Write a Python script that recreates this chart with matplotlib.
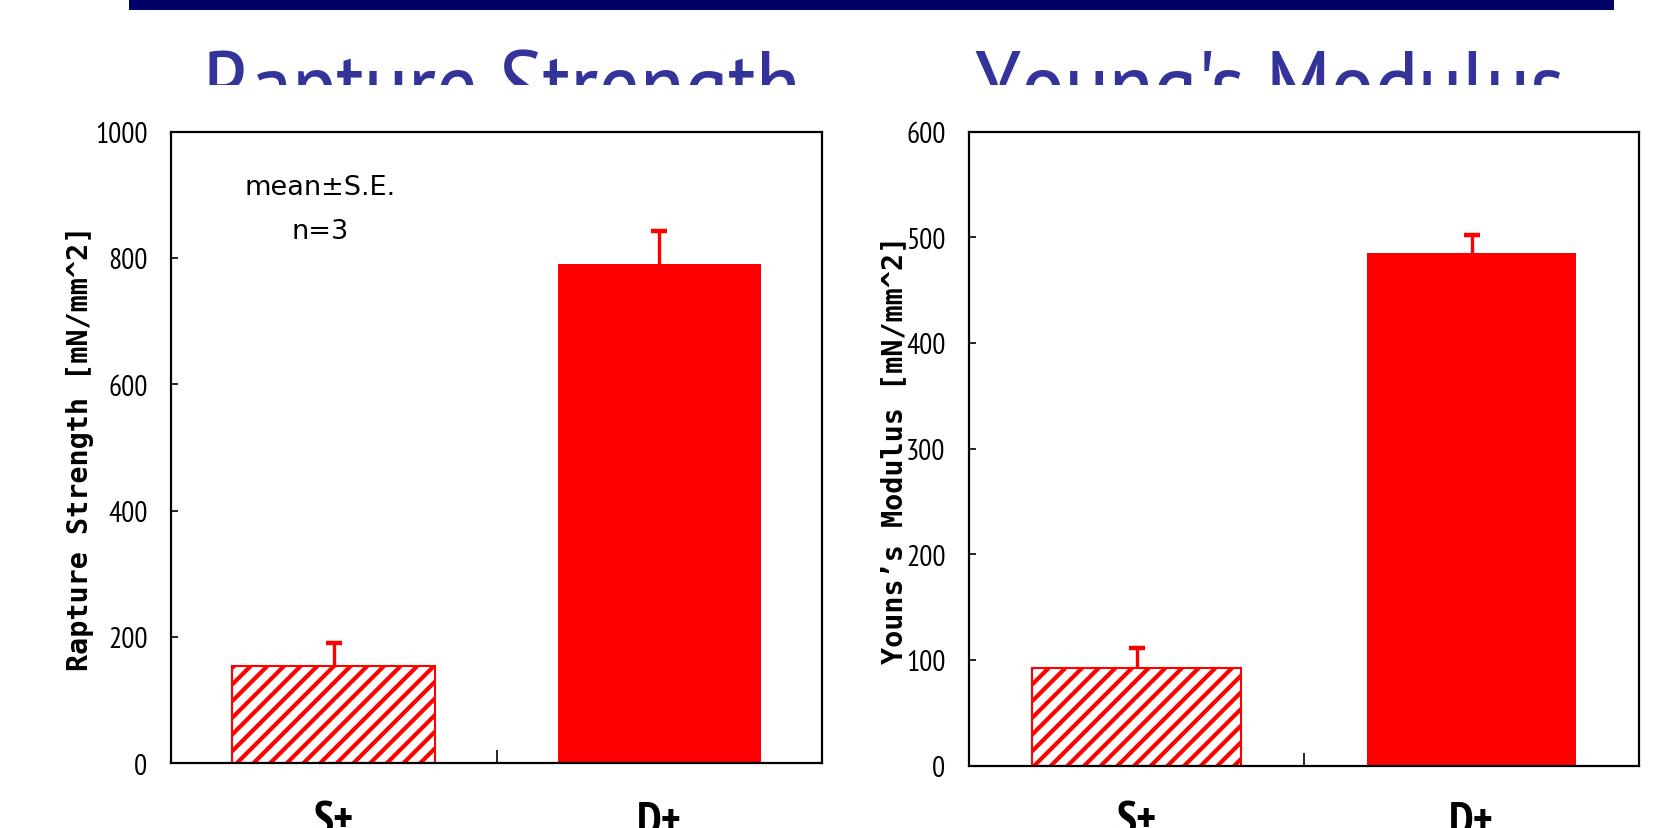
import matplotlib
matplotlib.use("Agg")
import matplotlib.pyplot as plt
from matplotlib.patches import Rectangle

# ---- data -------------------------------------------------------------
categories = ["S+", "D+"]
rapture_mean = [154, 790]
rapture_se = [37, 53]
young_mean = [92, 485]
young_se = [19, 17]

rapture_ticks = [0, 200, 400, 600, 800, 1000]
young_ticks = [0, 100, 200, 300, 400, 500, 600]

titles = ["Rapture Strength", "Young's Modulus"]
ylabels = ["Rapture Strength [mN/mm^2]", "Youns’s Modulus [mN/mm^2]"]

# ---- style ------------------------------------------------------------
RED = "#FF0000"
NAVY = "#000066"
TITLE_BLUE = "#333399"
NARROW = "PT Sans Narrow"
plt.rcParams["hatch.linewidth"] = 3.0
plt.rcParams["hatch.color"] = RED

W, H = 1676, 829
fig = plt.figure(figsize=(W / 100, H / 100), dpi=100)
fig.patch.set_facecolor("white")

# navy rule across the top of the slide
fig.add_artist(Rectangle((129 / W, 1 - 11 / H), (1614 - 129) / W, 11 / H,
                         transform=fig.transFigure, color=NAVY, lw=0))

# heading strip; the big titles are cut off at its lower edge
head = fig.add_axes([0, 1 - 86 / H, 1, 86 / H])
head.set_axis_off()
head.set_xlim(0, 1)
head.set_ylim(0, 1)
for xc, t in zip([502 / W, 1270 / W], titles):
    head.text(xc, (86 - 122) / 86, t, ha="center", va="baseline",
              fontsize=73, family=NARROW, color=TITLE_BLUE, clip_on=True)


def panel(rect, means, ses, ticks, ylabel, label_x, bottom_px):
    ax = fig.add_axes(rect)
    x = list(range(len(categories)))
    ax.bar(x[0], means[0], width=0.625, facecolor="white", edgecolor=RED,
           hatch="//", linewidth=1.5, zorder=2)
    ax.bar(x[1], means[1], width=0.625, color=RED, linewidth=0, zorder=2)

    # upper-only error bars: stem from the mean, cap at mean + S.E.
    tops = [m + s for m, s in zip(means, ses)]
    ax.vlines(x, means, tops, color=RED, linewidth=2.4, zorder=3)
    ax.plot(x, tops, linestyle="none", marker="_", markersize=12,
            markeredgewidth=3.2, color=RED, zorder=3)

    ax.set_xlim(-0.5, 1.5)
    ax.set_ylim(ticks[0], ticks[-1])
    ax.set_yticks(ticks)
    ax.set_yticklabels([str(v) for v in ticks], family=NARROW, fontsize=21)
    ax.tick_params(axis="y", direction="in", length=5, width=1.2, pad=17,
                   left=True, right=False)
    ax.set_xticks([0.5])
    ax.set_xticklabels([""])
    ax.tick_params(axis="x", direction="in", length=9.5, width=1.2,
                   bottom=True, top=False)
    for s in ax.spines.values():
        s.set_linewidth(1.6)
        s.set_color("black")

    ax.set_ylabel(ylabel, family="DejaVu Sans Mono", fontweight="bold",
                  fontsize=20.5, va="center")
    ax.yaxis.set_label_coords(label_x, 0.5)

    # category names under each bar (partly beyond the lower edge)
    ax_h_px = rect[3] * H
    for xi, c in zip(x, categories):
        ax.text(xi, (bottom_px - 835) / ax_h_px, c,
                transform=ax.get_xaxis_transform(), ha="center",
                va="baseline", family=NARROW, fontweight="bold", fontsize=33)
    return ax


ax1 = panel([171 / W, 1 - 764.3 / H, (822 - 171) / W, (764.3 - 132.6) / H],
            rapture_mean, rapture_se, rapture_ticks, ylabels[0], -0.140, 764.3)
ax1.text(0.229, 0.912, "mean±S.E.", transform=ax1.transAxes, ha="center",
         va="center", family="DejaVu Sans", fontsize=19.5)
ax1.text(0.229, 0.842, "n=3", transform=ax1.transAxes, ha="center",
         va="center", family="DejaVu Sans", fontsize=19.5)

ax2 = panel([969 / W, 1 - 766.5 / H, (1639 - 969) / W, (766.5 - 132.6) / H],
            young_mean, young_se, young_ticks, ylabels[1], -0.112, 766.5)

fig.savefig("out.png", dpi=100, facecolor="white")
